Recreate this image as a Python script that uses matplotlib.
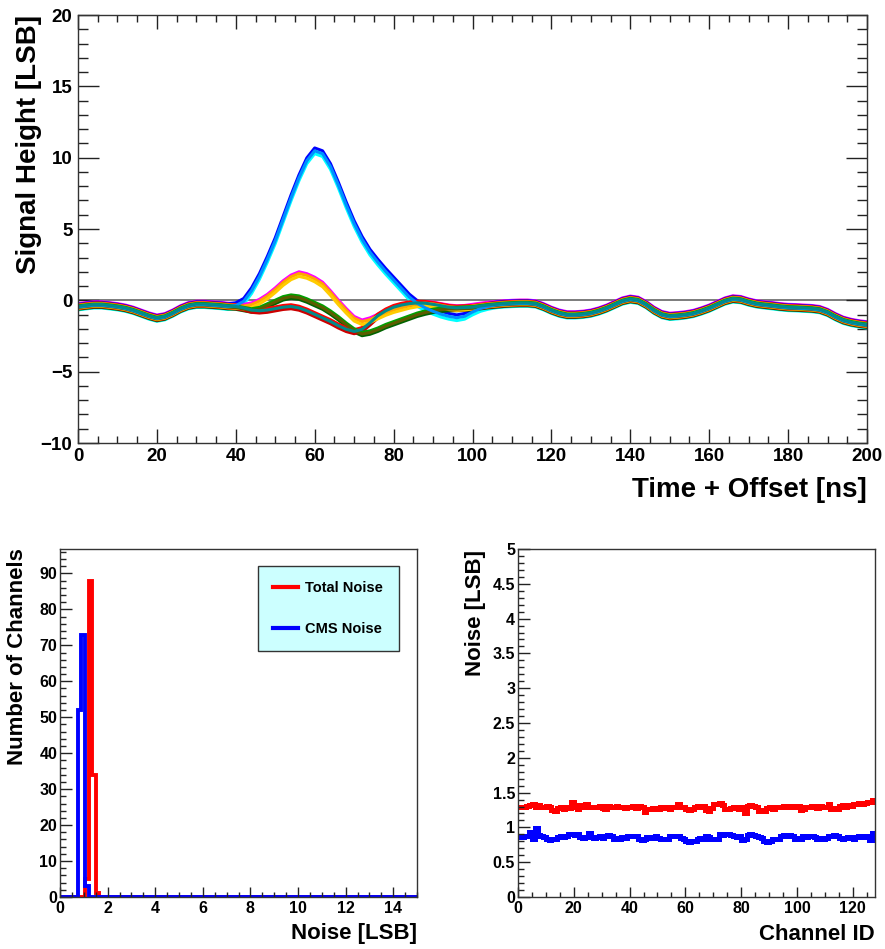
import numpy as np
import matplotlib
matplotlib.use('Agg')
import matplotlib.pyplot as plt
from matplotlib.ticker import MultipleLocator, FormatStrFormatter

plt.rcParams['font.family'] = ['Liberation Sans', 'DejaVu Sans']
plt.rcParams['font.weight'] = 'bold'
plt.rcParams['axes.labelweight'] = 'bold'

# --- pulse shapes, sampled every 2 ns ---
time_ns = np.arange(0, 202, 2)
# common baseline before (0-38 ns) and after (110-200 ns) the pulse region
base_early = [-0.45, -0.38, -0.32, -0.32, -0.38, -0.45, -0.55, -0.70, -0.90, -1.10,
              -1.25, -1.15, -0.90, -0.60, -0.38, -0.28, -0.28, -0.32, -0.36, -0.42]
base_late = [-0.22, -0.20, -0.20, -0.25, -0.45, -0.70, -0.90, -1.02, -1.02, -0.98,
             -0.90, -0.75, -0.55, -0.30, -0.05, 0.08, 0.00, -0.30, -0.70, -1.00,
             -1.12, -1.08, -1.02, -0.92, -0.75, -0.55, -0.30, -0.05, 0.10, 0.05,
             -0.12, -0.25, -0.32, -0.38, -0.45, -0.50, -0.52, -0.55, -0.58, -0.65,
             -0.85, -1.15, -1.40, -1.55, -1.65, -1.72]
# pulse region 40-108 ns for each group of channels
hit_mid = [-0.35, -0.05, 0.70, 1.70, 2.90, 4.20, 5.70, 7.20, 8.60, 9.80,
           10.50, 10.30, 9.40, 8.10, 6.70, 5.40, 4.30, 3.40, 2.70, 2.05,
           1.45, 0.85, 0.25, -0.20, -0.50, -0.75, -0.95, -1.10, -1.20, -1.10,
           -0.80, -0.55, -0.40, -0.30, -0.25]
near_mid = [-0.45, -0.50, -0.40, -0.15, 0.20, 0.65, 1.15, 1.55, 1.78, 1.65,
            1.40, 1.05, 0.45, -0.20, -0.80, -1.35, -1.60, -1.45, -1.20, -0.95,
            -0.75, -0.60, -0.45, -0.35, -0.30, -0.35, -0.45, -0.55, -0.60, -0.58,
            -0.50, -0.42, -0.35, -0.30, -0.25]
next_mid = [-0.45, -0.55, -0.65, -0.55, -0.30, -0.05, 0.20, 0.32, 0.25, 0.05,
            -0.20, -0.45, -0.80, -1.20, -1.65, -2.05, -2.30, -2.20, -2.00, -1.75,
            -1.55, -1.35, -1.15, -0.95, -0.80, -0.68, -0.60, -0.55, -0.55, -0.52,
            -0.50, -0.42, -0.35, -0.30, -0.25]
far_mid = [-0.45, -0.55, -0.70, -0.75, -0.70, -0.60, -0.50, -0.45, -0.55, -0.75,
           -1.00, -1.25, -1.50, -1.80, -2.05, -2.20, -2.05, -1.60, -1.10, -0.75,
           -0.50, -0.35, -0.25, -0.20, -0.22, -0.30, -0.40, -0.50, -0.55, -0.52,
           -0.50, -0.42, -0.35, -0.30, -0.25]

# channel-to-channel spread inside each group
hit_spread = [0.18, -0.02, -0.22]
near_spread = [0.22, 0.10, -0.10]
next_spread = [0.06, -0.06, -0.18]
far_spread = [0.14, 0.02, -0.14]

# --- noise histogram (bins of 0.15 LSB) ---
total_noise_bins = [1.05, 1.20, 1.35, 1.50]
total_noise_counts = [5, 88, 34, 1]
cms_noise_bins = [0.75, 0.90, 1.05]
cms_noise_counts = [52, 73, 3]

# --- noise per channel ---
total_noise = [1.30, 1.29, 1.30, 1.31, 1.32, 1.33, 1.30, 1.32, 1.29, 1.30, 1.31, 1.29,
               1.25, 1.24, 1.28, 1.29, 1.27, 1.30, 1.28, 1.37, 1.30, 1.27, 1.32, 1.30,
               1.33, 1.29, 1.30, 1.29, 1.29, 1.31, 1.28, 1.26, 1.31, 1.30, 1.29, 1.31,
               1.30, 1.29, 1.28, 1.30, 1.29, 1.31, 1.28, 1.31, 1.30, 1.22, 1.27, 1.26,
               1.28, 1.27, 1.26, 1.29, 1.28, 1.30, 1.27, 1.29, 1.30, 1.33, 1.30, 1.29,
               1.26, 1.25, 1.27, 1.29, 1.31, 1.30, 1.31, 1.25, 1.24, 1.28, 1.33, 1.34,
               1.35, 1.32, 1.27, 1.26, 1.28, 1.30, 1.29, 1.27, 1.30, 1.20, 1.31, 1.32,
               1.31, 1.30, 1.24, 1.25, 1.23, 1.28, 1.29, 1.27, 1.29, 1.30, 1.30, 1.31,
               1.29, 1.30, 1.31, 1.30, 1.31, 1.25, 1.26, 1.30, 1.29, 1.31, 1.30, 1.28,
               1.31, 1.29, 1.30, 1.34, 1.27, 1.28, 1.27, 1.31, 1.32, 1.30, 1.32, 1.31,
               1.33, 1.34, 1.35, 1.33, 1.35, 1.36, 1.37, 1.39]
cms_noise = [0.87, 0.86, 0.88, 0.87, 0.94, 0.83, 0.99, 0.89, 0.87, 0.86, 0.83, 0.82,
             0.84, 0.83, 0.86, 0.87, 0.86, 0.88, 0.90, 0.91, 0.89, 0.90, 0.86, 0.85,
             0.86, 0.92, 0.86, 0.85, 0.86, 0.87, 0.85, 0.88, 0.89, 0.87, 0.84, 0.85,
             0.84, 0.86, 0.85, 0.88, 0.87, 0.88, 0.87, 0.83, 0.82, 0.84, 0.86, 0.85,
             0.86, 0.87, 0.85, 0.84, 0.83, 0.84, 0.87, 0.88, 0.87, 0.88, 0.85, 0.84,
             0.80, 0.79, 0.80, 0.81, 0.84, 0.85, 0.84, 0.87, 0.86, 0.83, 0.84, 0.83,
             0.90, 0.89, 0.90, 0.91, 0.89, 0.87, 0.86, 0.87, 0.82, 0.83, 0.89, 0.90,
             0.89, 0.88, 0.86, 0.85, 0.80, 0.79, 0.80, 0.83, 0.84, 0.83, 0.88, 0.89,
             0.88, 0.89, 0.88, 0.84, 0.85, 0.84, 0.87, 0.86, 0.87, 0.88, 0.86, 0.84,
             0.85, 0.84, 0.85, 0.88, 0.87, 0.89, 0.88, 0.85, 0.84, 0.85, 0.86, 0.85,
             0.84, 0.86, 0.87, 0.86, 0.87, 0.86, 0.82, 0.92]

W, H = 885, 949


def px_box(x0, y0, x1, y1):
    return [x0 / W, 1 - y1 / H, (x1 - x0) / W, (y1 - y0) / H]


def style_ticks(ax, xmaj, xmin, ymaj, ymin, xlen, ylen, mirror, size, xpad, ypad):
    ax.xaxis.set_major_locator(MultipleLocator(xmaj))
    ax.xaxis.set_minor_locator(MultipleLocator(xmin))
    ax.yaxis.set_major_locator(MultipleLocator(ymaj))
    ax.yaxis.set_minor_locator(MultipleLocator(ymin))
    ax.tick_params(which='both', direction='in', top=mirror, right=mirror,
                   width=1, color='#222222', labelsize=size)
    ax.tick_params(axis='x', which='major', length=xlen, pad=xpad)
    ax.tick_params(axis='x', which='minor', length=xlen / 2)
    ax.tick_params(axis='y', which='major', length=ylen, pad=ypad)
    ax.tick_params(axis='y', which='minor', length=ylen / 2)
    for s in ax.spines.values():
        s.set_linewidth(1)
        s.set_color('#333333')


fig = plt.figure(figsize=(8.85, 9.49), dpi=100)

# ---------------- signal shapes ----------------
ax = fig.add_axes(px_box(78, 15, 867, 443))
groups = [
    (hit_mid, ['#0000ff', '#0090ff', '#00ffff'], hit_spread),
    (near_mid, ['#ff00ff', '#ffa500', '#ffcc00'], near_spread),
    (next_mid, ['#00a000', '#5c5c00', '#006400'], next_spread),
    (far_mid, ['#ff0000', '#008b8b', '#cc0000'], far_spread),
]
traces = []
for mid, colors, spread in groups:
    shape = np.array(base_early + mid + base_late)
    for c, off in zip(colors, spread):
        traces.append((off, c, shape + off))
# outer channels first so the band shows its edges and mixed middle
traces.sort(key=lambda t: -abs(t[0]))
ax.axhline(0, color='#666666', lw=1.2, zorder=1)
for off, c, y in traces:
    ax.plot(time_ns, y, color=c, lw=2.2, zorder=2)
ax.set_xlim(0, 200)
ax.set_ylim(-10, 20)
style_ticks(ax, 20, 5, 5, 1, 10, 15, True, 13.5, 3.5, 4)
fig.text(29 / W, 1 - 15 / H, 'Signal Height [LSB]', rotation=90, ha='center',
         va='top', fontsize=20, fontweight='bold')
fig.text(867 / W, 1 - 490 / H, 'Time + Offset [ns]', ha='right', va='center',
         fontsize=20, fontweight='bold')

# ---------------- noise distribution ----------------
ax = fig.add_axes(px_box(60, 549, 417, 897))
edges = np.linspace(0, 15, 101)
tot_hist, _ = np.histogram(np.array(total_noise_bins) + 0.075, bins=edges,
                           weights=total_noise_counts)
cms_hist, _ = np.histogram(np.array(cms_noise_bins) + 0.075, bins=edges,
                           weights=cms_noise_counts)
ax.stairs(tot_hist, edges, color='#ff0000', lw=2.8, label='Total Noise')
ax.stairs(cms_hist, edges, color='#0000ff', lw=2.8, label='CMS Noise')
ax.set_xlim(0, 15)
ax.set_ylim(0, 96.8)
style_ticks(ax, 2, 0.5, 10, 2, 7.5, 8.5, False, 11.5, 3, 2)
leg = ax.legend(loc='upper left', bbox_to_anchor=(0.555, 0.951, 0.395, 0.0),
                mode='expand', borderaxespad=0, fontsize=10.5, handlelength=1.7,
                handletextpad=0.5, labelspacing=1.9, borderpad=1.0,
                fancybox=False, framealpha=1)
leg.get_frame().set_facecolor('#ccffff')
leg.get_frame().set_edgecolor('#333333')
leg.get_frame().set_linewidth(1)
for line in leg.get_lines():
    line.set_linewidth(3)
fig.text(18 / W, 1 - 548 / H, 'Number of Channels', rotation=90, ha='center',
         va='top', fontsize=16, fontweight='bold')
fig.text(417 / W, 1 - 933 / H, 'Noise [LSB]', ha='right', va='center',
         fontsize=16, fontweight='bold')

# ---------------- noise per channel ----------------
ax = fig.add_axes(px_box(518, 549, 875, 897))
chan_edges = np.arange(len(total_noise) + 1)
ax.stairs(total_noise, chan_edges, color='#ff0000', lw=3.6, baseline=None)
ax.stairs(cms_noise, chan_edges, color='#0000ff', lw=3.6, baseline=None)
ax.set_xlim(0, 128)
ax.set_ylim(0, 5)
ax.yaxis.set_major_formatter(FormatStrFormatter('%g'))
style_ticks(ax, 20, 5, 0.5, 0.1, 7.5, 8.5, False, 11.5, 3, 2)
fig.text(475 / W, 1 - 550 / H, 'Noise [LSB]', rotation=90, ha='center',
         va='top', fontsize=16, fontweight='bold')
fig.text(875 / W, 1 - 935 / H, 'Channel ID', ha='right', va='center',
         fontsize=16, fontweight='bold')

fig.savefig('out.png', dpi=100)
